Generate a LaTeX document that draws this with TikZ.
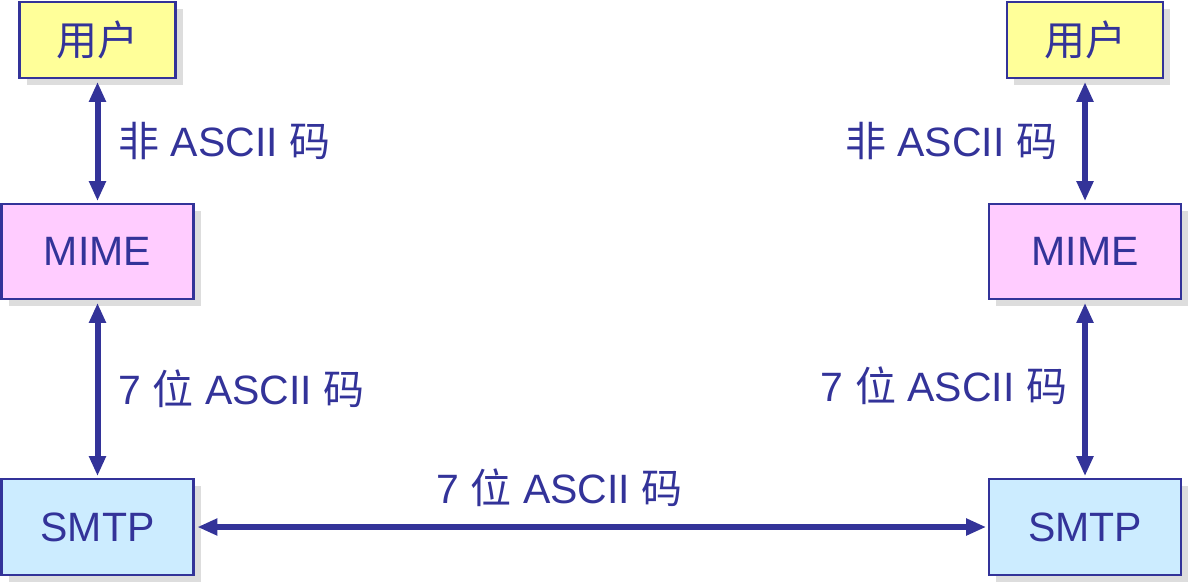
\documentclass[tikz,border=0pt]{standalone}
\usepackage{fontspec}
\setmainfont{Liberation Sans}
\newfontfamily\cjk{Noto Sans CJK SC}
\usetikzlibrary{arrows.meta,shadows,positioning}

\definecolor{mailblue}{HTML}{333399}
\definecolor{useryellow}{HTML}{FFFF99}
\definecolor{mimepink}{HTML}{FFCCFF}
\definecolor{smtpblue}{HTML}{CCECFF}
\definecolor{shadowgray}{HTML}{DDDDDD}

\tikzset{
	mailpicture/.style = {
		x = 1pt,
		y = -1pt,
		font = \fontsize{41}{49}\selectfont,
		text = mailblue,
		arrow/.style = {
			draw = mailblue,
			line width = 6pt,
			{Triangle[width=16pt,length=20pt]}-{Triangle[width=16pt,length=20pt]},
			shorten >=1.5pt,
			shorten <=2.5pt,
		}
	},
	mailnode/.style = {
		rectangle,
		draw = mailblue,
		line width = 2.8pt,
		inner sep = 0pt,
		drop shadow = {shadow xshift=7pt, shadow yshift=-7pt, fill=shadowgray, opacity=1}
	},
	usernode/.style = {
		mailnode,
		fill = useryellow,
		minimum width = 156pt,
		minimum height = 76pt
	},
	mimenode/.style = {
		mailnode,
		fill = mimepink,
		minimum width = 192pt,
		minimum height = 95pt
	},
	smtpnode/.style = {
		mailnode,
		fill = smtpblue,
		minimum width = 192pt,
		minimum height = 96pt
	},
	codetext/.style = {
		inner sep = 0pt,
		text = mailblue
	}
}

\begin{document}
\begin{tikzpicture}[mailpicture]
	\useasboundingbox (0,0) rectangle (1190,582);

	\node[usernode] (userL) at (97.5,40) {\cjk 用户};
	\node[mimenode] (mimeL) at (97.5,251.5) {MIME};
	\node[smtpnode] (smtpL) at (97.5,527) {SMTP};

	\node[usernode] (userR) at (1085,40) {\cjk 用户};
	\node[mimenode] (mimeR) at (1085,251.5) {MIME};
	\node[smtpnode] (smtpR) at (1085,527) {SMTP};

	% arrows with their labels
	\path[arrow] (userL) -- node[codetext, right=18pt] {{\cjk 非} ASCII {\cjk 码}} (mimeL);
	\path[arrow] (mimeL) -- node[codetext, right=18pt] {7 {\cjk 位} ASCII {\cjk 码}} (smtpL);
	\path[arrow] (userR) -- node[codetext, left=25pt] {{\cjk 非} ASCII {\cjk 码}} (mimeR);
	\path[arrow] (mimeR) -- node[codetext, left=15pt, yshift=3pt] {7 {\cjk 位} ASCII {\cjk 码}} (smtpR);
	\path[arrow] (smtpL) -- node[codetext, above=17pt, pos=0.46] {7 {\cjk 位} ASCII {\cjk 码}} (smtpR);
\end{tikzpicture}
\end{document}
